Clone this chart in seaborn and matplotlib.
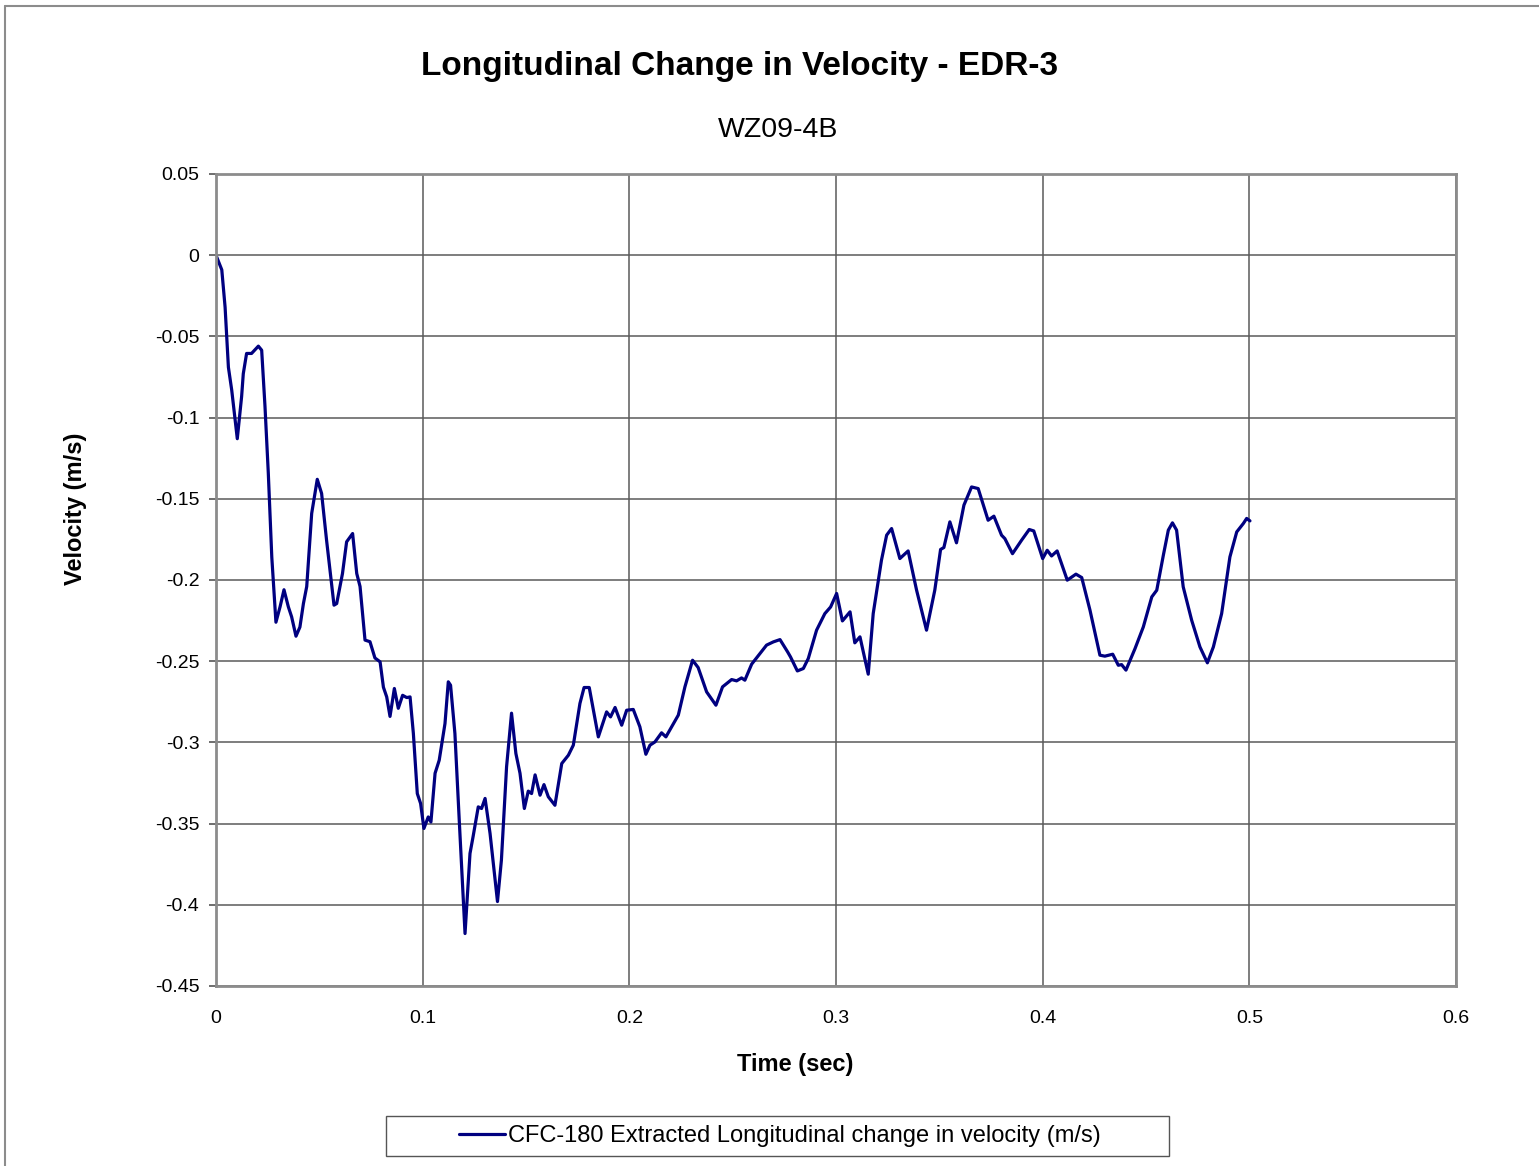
import matplotlib
matplotlib.use("Agg")
import matplotlib.pyplot as plt
import seaborn as sns
import pandas as pd
from matplotlib.lines import Line2D
from matplotlib.patches import Rectangle

time_sec = [0.0, 0.0028, 0.0044, 0.006, 0.0076, 0.0103, 0.0124, 0.0132, 0.0148, 0.0172, 0.0205, 0.0221,
            0.0237, 0.0253, 0.027, 0.029, 0.031, 0.0329, 0.035, 0.0366, 0.0387, 0.0406, 0.0423, 0.0439,
            0.0463, 0.049, 0.0511, 0.0535, 0.0571, 0.0584, 0.0612, 0.0632, 0.0661, 0.0681, 0.0697,
            0.0721, 0.0745, 0.0769, 0.0794, 0.081, 0.0826, 0.0842, 0.0863, 0.0882, 0.0903, 0.0923,
            0.0939, 0.0955, 0.0974, 0.099, 0.1006, 0.1027, 0.104, 0.106, 0.108, 0.1108, 0.1124, 0.1135,
            0.1156, 0.1177, 0.1205, 0.1229, 0.1244, 0.1269, 0.1285, 0.1302, 0.1326, 0.1362, 0.1381,
            0.1406, 0.143, 0.1451, 0.1471, 0.1492, 0.1511, 0.1527, 0.1544, 0.1568, 0.1587, 0.1608,
            0.164, 0.1673, 0.1705, 0.1729, 0.1761, 0.1781, 0.1806, 0.185, 0.189, 0.1909, 0.1931,
            0.1963, 0.1987, 0.2019, 0.2051, 0.208, 0.21, 0.2124, 0.2156, 0.2177, 0.2205, 0.2237,
            0.2269, 0.2306, 0.2333, 0.2374, 0.2419, 0.2451, 0.2495, 0.2519, 0.2543, 0.2559, 0.2592,
            0.2632, 0.2664, 0.2697, 0.2729, 0.2766, 0.278, 0.2813, 0.2842, 0.2866, 0.2906, 0.2946,
            0.2974, 0.3003, 0.3031, 0.3068, 0.3091, 0.3116, 0.3156, 0.318, 0.322, 0.3245, 0.3269,
            0.3309, 0.3349, 0.339, 0.3438, 0.3478, 0.3506, 0.3522, 0.3551, 0.3583, 0.3619, 0.3656,
            0.3688, 0.3736, 0.3764, 0.3801, 0.3817, 0.3854, 0.3898, 0.3935, 0.3957, 0.4, 0.4022,
            0.4043, 0.407, 0.4119, 0.4161, 0.4189, 0.4229, 0.4277, 0.4301, 0.4339, 0.4366, 0.4382,
            0.4403, 0.4447, 0.4487, 0.4528, 0.4552, 0.4584, 0.4608, 0.4628, 0.4648, 0.468, 0.4721,
            0.4761, 0.4797, 0.4826, 0.4866, 0.4906, 0.4939, 0.4971, 0.4987, 0.5003]

velocity = [0.0, -0.009, -0.032, -0.069, -0.083, -0.113, -0.087, -0.073, -0.0605, -0.0605, -0.056, -0.0585,
            -0.093, -0.134, -0.186, -0.226, -0.2165, -0.206, -0.2165, -0.2227, -0.2346, -0.229, -0.2145,
            -0.204, -0.159, -0.138, -0.1467, -0.1755, -0.2155, -0.2145, -0.196, -0.1765, -0.1714, -0.196,
            -0.204, -0.237, -0.238, -0.248, -0.2504, -0.266, -0.272, -0.284, -0.2668, -0.279, -0.271,
            -0.2724, -0.272, -0.2945, -0.3315, -0.3376, -0.353, -0.3459, -0.349, -0.319, -0.311, -0.2884,
            -0.2627, -0.2648, -0.2945, -0.348, -0.4177, -0.3684, -0.358, -0.3397, -0.3407, -0.3345,
            -0.356, -0.398, -0.3725, -0.315, -0.282, -0.3068, -0.319, -0.3407, -0.33, -0.3315, -0.32,
            -0.3325, -0.326, -0.3335, -0.3387, -0.313, -0.3079, -0.3017, -0.276, -0.2662, -0.2662,
            -0.2966, -0.2812, -0.2843, -0.2785, -0.2894, -0.2802, -0.2797, -0.2904, -0.3073, -0.3017,
            -0.2997, -0.2941, -0.2966, -0.2904, -0.2832, -0.2658, -0.2494, -0.2539, -0.2689, -0.2771,
            -0.2658, -0.2613, -0.2621, -0.2603, -0.2617, -0.2518, -0.2453, -0.2401, -0.2381, -0.2367,
            -0.2443, -0.2474, -0.256, -0.2545, -0.2483, -0.2309, -0.2207, -0.2166, -0.2083, -0.2252,
            -0.2196, -0.2387, -0.235, -0.258, -0.2207, -0.1878, -0.1724, -0.1683, -0.1868, -0.1821,
            -0.2063, -0.2309, -0.2063, -0.1812, -0.18, -0.1642, -0.1771, -0.1539, -0.1427, -0.1437,
            -0.1632, -0.1607, -0.1724, -0.1745, -0.1838, -0.1755, -0.1689, -0.1698, -0.1868, -0.1817,
            -0.1852, -0.1821, -0.2001, -0.1964, -0.1985, -0.2186, -0.2463, -0.2469, -0.2457, -0.2525,
            -0.2521, -0.2555, -0.2422, -0.2289, -0.2104, -0.2063, -0.1847, -0.1693, -0.1648, -0.1693,
            -0.2042, -0.2248, -0.2412, -0.251, -0.2412, -0.2207, -0.1858, -0.1704, -0.1652, -0.1621,
            -0.1636]

x_ticks = [0, 0.1, 0.2, 0.3, 0.4, 0.5, 0.6]
x_tick_labels = ["0", "0.1", "0.2", "0.3", "0.4", "0.5", "0.6"]
y_ticks = [0.05, 0, -0.05, -0.1, -0.15, -0.2, -0.25, -0.3, -0.35, -0.4, -0.45]
y_tick_labels = ["0.05", "0", "-0.05", "-0.1", "-0.15", "-0.2", "-0.25", "-0.3", "-0.35", "-0.4", "-0.45"]

title = "Longitudinal Change in Velocity - EDR-3"
subtitle = "WZ09-4B"
series_name = "CFC-180 Extracted Longitudinal change in velocity (m/s)"

sns.set_theme(style="white")
plt.rcParams['font.family'] = ['Liberation Sans', 'DejaVu Sans']
plt.rcParams['text.color'] = 'black'
plt.rcParams['axes.labelcolor'] = 'black'

df = pd.DataFrame({"Time (sec)": time_sec, "Velocity (m/s)": velocity})

W, H = 1539, 1166
fig = plt.figure(figsize=(W / 100, H / 100), dpi=100)
ax = fig.add_axes([216 / W, 1 - 986 / H, (1456 - 216) / W, (986 - 174) / H])

sns.lineplot(data=df, x="Time (sec)", y="Velocity (m/s)", ax=ax, color="#000080",
             linewidth=2.3, sort=False, estimator=None)

ax.set_xlim(0, 0.6)
ax.set_ylim(-0.45, 0.05)
ax.set_xticks(x_ticks)
ax.set_xticklabels(x_tick_labels)
ax.set_yticks(y_ticks)
ax.set_yticklabels(y_tick_labels)
ax.tick_params(axis="x", length=0, pad=17, labelsize=14, labelcolor="black")
ax.tick_params(axis="y", length=5, width=1.2, color="#555555", pad=7, labelsize=14,
               labelcolor="black", left=True)

ax.grid(True, color="#5a5a5a", linewidth=1.1)
for s in ax.spines.values():
    s.set_color("#8c8c8c")
    s.set_linewidth(2.0)
    s.set_visible(True)

ax.set_xlabel("Time (sec)", fontsize=17, fontweight="bold")
ax.set_ylabel("Velocity (m/s)", fontsize=17, fontweight="bold")
ax.xaxis.set_label_coords((795 - 216) / (1456 - 216), -(1053 - 986) / (986 - 174))
ax.yaxis.set_label_coords(-(216 - 87) / (1456 - 216), (986 - 509) / (986 - 174))

fig.text(740 / W, 1 - 67 / H, title, ha="center", va="center", fontsize=24, fontweight="bold")
fig.text(778 / W, 1 - 130 / H, subtitle, ha="center", va="center", fontsize=20.5)

handle = Line2D([], [], color="#000080", linewidth=2.3)
leg = fig.legend([handle], [series_name], loc="center", bbox_to_anchor=(780 / W, 1 - 1136 / H),
                 frameon=False, fontsize=17, handlelength=1.95, handletextpad=0.1,
                 borderpad=0.0, borderaxespad=0)
fig.add_artist(Rectangle((386 / W, 1 - 1156 / H), (1169 - 386) / W, 40 / H, transform=fig.transFigure,
                         fill=False, edgecolor="#555555", linewidth=1.0))

fig.add_artist(Line2D([5 / W, 5 / W], [0, 1 - 6 / H], transform=fig.transFigure, color="#8c8c8c", linewidth=1.5))
fig.add_artist(Line2D([5 / W, 1], [1 - 6 / H, 1 - 6 / H], transform=fig.transFigure, color="#8c8c8c", linewidth=1.5))

fig.savefig("out.png", dpi=100)
